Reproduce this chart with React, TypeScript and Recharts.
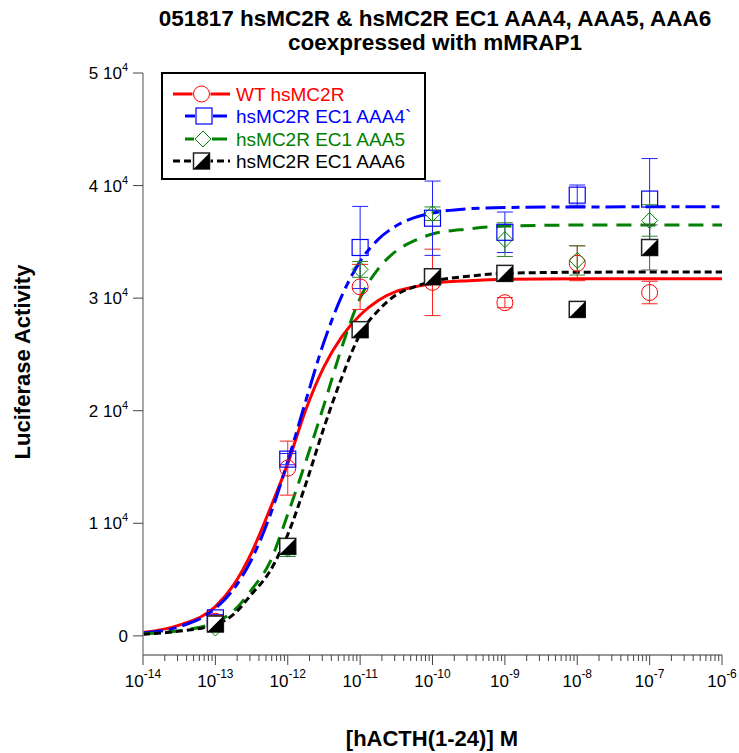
import React from 'react'
import { ComposedChart, Line, Scatter, XAxis, YAxis, ErrorBar } from 'recharts'

const DOSES = [1e-13, 1e-12, 1e-11, 1e-10, 1e-9, 1e-8, 1e-7]

const WT_MEAN = [1300, 14900, 31000, 31400, 29600, 33100, 30500]
const WT_ERR = [500, 2400, 2000, 2950, 450, 1550, 1000]
const AAA4_MEAN = [1600, 15700, 34500, 37100, 35850, 39150, 38800]
const AAA4_ERR = [300, 500, 3650, 3300, 1800, 900, 3600]
const AAA5_MEAN = [700, 7700, 32550, 37500, 35200, 33350, 36900]
const AAA5_ERR = [200, 650, 700, 600, 1500, 1300, 1400]
const AAA6_MEAN = [1050, 7950, 27200, 31900, 32200, 29000, 34500]
const AAA6_ERR = [300, 400, 400, 300, 300, 300, 2000]

// fitted curves, read at these log10 doses
const FIT_LOG_DOSE = [-14, -13.5, -13, -12.75, -12.5, -12.25, -12, -11.75, -11.5, -11.25, -11, -10.75, -10.5, -10.25, -10, -9.5, -9, -8, -7, -6]
const WT_FIT = [290, 950, 2600, 4500, 7400, 11200, 15300, 20100, 23900, 26600, 28500, 29800, 30600, 31000, 31300, 31550, 31680, 31720, 31730, 31730]
const AAA4_FIT = [260, 810, 2440, 4140, 6780, 10600, 15500, 20900, 26100, 30250, 33270, 35220, 36430, 37150, 37560, 37940, 38050, 38100, 38110, 38110]
const AAA5_FIT = [180, 450, 1200, 2200, 4100, 6500, 10800, 15500, 20500, 25700, 30000, 32600, 34200, 35100, 35700, 36150, 36400, 36490, 36500, 36500]
const AAA6_FIT = [150, 420, 1000, 1900, 3700, 5700, 9000, 13500, 18500, 23000, 26800, 28900, 30300, 31000, 31500, 31950, 32200, 32300, 32320, 32320]

const X_DECADES = [1e-14, 1e-13, 1e-12, 1e-11, 1e-10, 1e-9, 1e-8, 1e-7, 1e-6]
const Y_TICKS = [0, 10000, 20000, 30000, 40000, 50000]

const SERIES_NAMES = ['WT hsMC2R', 'hsMC2R EC1 AAA4`', 'hsMC2R EC1 AAA5', 'hsMC2R EC1 AAA6']

const FONT = '"Liberation Sans", Arial, sans-serif'

const points = (mean: number[], err: number[]) => DOSES.map((x, i) => ({ x, y: mean[i], err: err[i] }))
const curve = (vals: number[]) => FIT_LOG_DOSE.map((e, i) => ({ x: Math.pow(10, e), y: vals[i] }))

const X_ALL_TICKS: number[] = []
X_DECADES.forEach((d, i) => {
  X_ALL_TICKS.push(d)
  if (i < X_DECADES.length - 1) for (let k = 2; k <= 9; k++) X_ALL_TICKS.push(d * k)
})

type Kind = 'circle' | 'square' | 'diamond' | 'half'

function Mark({ cx, cy, kind, color }: { cx: number; cy: number; kind: Kind; color: string }) {
  if (cx == null || cy == null) return null
  const s = 8
  if (kind === 'circle') return <circle cx={cx} cy={cy} r={s} fill="none" stroke={color} strokeWidth={1} />
  if (kind === 'square')
    return <rect x={cx - s} y={cy - s} width={2 * s} height={2 * s} fill="none" stroke={color} strokeWidth={1.2} />
  if (kind === 'diamond')
    return (
      <polygon
        points={`${cx},${cy - s} ${cx + s},${cy} ${cx},${cy + s} ${cx - s},${cy}`}
        fill="none"
        stroke={color}
        strokeWidth={1}
      />
    )
  return (
    <g>
      <rect x={cx - s} y={cy - s} width={2 * s} height={2 * s} fill="#fff" stroke="#222" strokeWidth={1.5} />
      <polygon points={`${cx + s},${cy - s} ${cx + s},${cy + s} ${cx - s},${cy + s}`} fill="#000" />
    </g>
  )
}

function XTick(props: any) {
  const { x, y, payload } = props
  const lg = Math.log10(payload.value)
  const exp = Math.round(lg)
  const major = Math.abs(lg - exp) < 1e-6
  return (
    <g>
      <line x1={x} x2={x} y1={y} y2={y + (major ? 10 : 6)} stroke="#444" strokeWidth={1} />
      {major && (
        <text x={x} y={y + 32} textAnchor="middle" fontSize={17} fontFamily={FONT} fill="#000">
          10
          <tspan dy={-9} fontSize={12}>
            {`-${Math.abs(exp)}`}
          </tspan>
        </text>
      )}
    </g>
  )
}

function YTick(props: any) {
  const { x, y, payload } = props
  const v = payload.value
  if (v === 0)
    return (
      <text x={x} y={y} dy={6} textAnchor="end" fontSize={17} fontFamily={FONT} fill="#000">
        0
      </text>
    )
  return (
    <text x={x} y={y} dy={6} textAnchor="end" fontSize={17} fontFamily={FONT} fill="#000">
      {`${v / 10000} 10`}
      <tspan dy={-8} fontSize={11}>
        4
      </tspan>
    </text>
  )
}

const STYLES = [
  { color: '#ff0000', dash: undefined, kind: 'circle' as Kind, err: '#ff2020', fit: WT_FIT, mean: WT_MEAN, e: WT_ERR },
  { color: '#0000ff', dash: '20 6 8 6', kind: 'square' as Kind, err: '#2020ff', fit: AAA4_FIT, mean: AAA4_MEAN, e: AAA4_ERR },
  { color: '#008000', dash: '15 9', kind: 'diamond' as Kind, err: '#2e8b2e', fit: AAA5_FIT, mean: AAA5_MEAN, e: AAA5_ERR },
  { color: '#000000', dash: '7 4', kind: 'half' as Kind, err: '#555', fit: AAA6_FIT, mean: AAA6_MEAN, e: AAA6_ERR },
]

const LEGEND_ROWS = [
  { y: 94, x1: 173, x2: 230, mx: 201.5, text: '#ff0000' },
  { y: 116, x1: 185, x2: 227, mx: 204, text: '#0000ff' },
  { y: 139, x1: 185, x2: 227, mx: 203, text: '#008000' },
  { y: 161, x1: 173, x2: 230, mx: 201.5, text: '#000000' },
]

export default function App() {
  return (
    <div style={{ position: 'absolute', left: 0, top: 0, width: 739, height: 753, background: '#fff' }}>
      <ComposedChart width={739} height={753} margin={{ top: 73, right: 17, bottom: 58, left: 83 }}>
        <XAxis
          dataKey="x"
          type="number"
          scale="log"
          domain={[1e-14, 1e-6]}
          allowDataOverflow
          ticks={X_ALL_TICKS}
          interval={0}
          tick={<XTick />}
          tickLine={false}
          tickSize={0}
          tickMargin={0}
          height={40}
          axisLine={{ stroke: '#333', strokeWidth: 1 }}
        />
        <YAxis
          type="number"
          domain={[-1700, 50000]}
          allowDataOverflow
          ticks={Y_TICKS}
          interval={0}
          tick={<YTick />}
          tickSize={10}
          tickMargin={5}
          width={60}
          tickLine={{ stroke: '#444' }}
          axisLine={{ stroke: '#8a8a8a', strokeWidth: 1.5 }}
        />
        {STYLES.map((s, i) => (
          <Line
            key={'fit' + i}
            data={curve(s.fit)}
            dataKey="y"
            type="monotone"
            stroke={s.color}
            strokeWidth={3}
            strokeDasharray={s.dash}
            dot={false}
            activeDot={false}
            isAnimationActive={false}
          />
        ))}
        {STYLES.map((s, i) => (
          <Scatter
            key={'pts' + i}
            data={points(s.mean, s.e)}
            dataKey="y"
            isAnimationActive={false}
            shape={(p: any) => <Mark cx={p.cx} cy={p.cy} kind={s.kind} color={s.color} />}
          >
            <ErrorBar dataKey="err" direction="y" width={8} stroke={s.err} strokeWidth={1} />
          </Scatter>
        ))}
      </ComposedChart>
      <svg
        width={739}
        height={753}
        style={{ position: 'absolute', left: 0, top: 0, pointerEvents: 'none' }}
        fontFamily={FONT}
      >
        <text x={435} y={26} textAnchor="middle" fontSize={22.5} fontWeight="bold">
          051817 hsMC2R &amp; hsMC2R EC1 AAA4, AAA5, AAA6
        </text>
        <text x={435} y={50} textAnchor="middle" fontSize={22.5} fontWeight="bold">
          coexpressed with mMRAP1
        </text>
        <text transform="translate(30,362) rotate(-90)" textAnchor="middle" fontSize={22} fontWeight="bold">
          Luciferase Activity
        </text>
        <text x={432} y={746} textAnchor="middle" fontSize={22} fontWeight="bold">
          [hACTH(1-24)] M
        </text>
        <rect x={162} y={73} width={263} height={106} fill="#fff" stroke="#000" strokeWidth={2} />
        {LEGEND_ROWS.map((r, i) => (
          <g key={i}>
            <line
              x1={r.x1}
              x2={r.x2}
              y1={r.y}
              y2={r.y}
              stroke={STYLES[i].color}
              strokeWidth={3}
              strokeDasharray={i === 3 ? '7 4' : undefined}
            />
            <rect x={r.mx - 9} y={r.y - 9} width={18} height={18} fill="#fff" />
            <Mark cx={r.mx} cy={r.y} kind={STYLES[i].kind} color={STYLES[i].color} />
            <text x={236} y={r.y + 7} fontSize={19} fill={r.text}>
              {SERIES_NAMES[i]}
            </text>
          </g>
        ))}
      </svg>
    </div>
  )
}
